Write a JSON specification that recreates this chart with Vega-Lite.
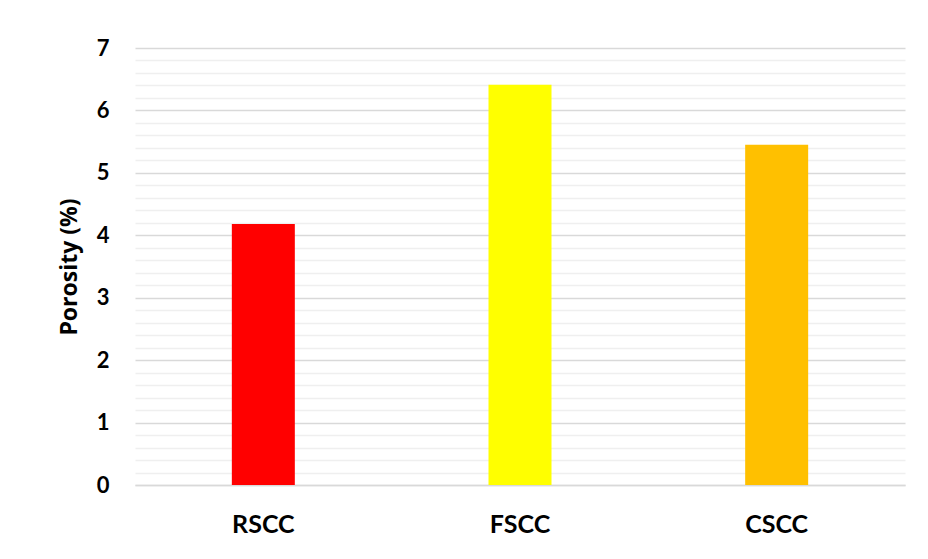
{
  "$schema": "https://vega.github.io/schema/vega-lite/v6.json",
  "width": 770,
  "height": 437,
  "autosize": {"type": "none"},
  "padding": {"left": 135, "top": 48, "right": 23, "bottom": 74},
  "background": "white",
  "config": {
    "view": {"stroke": null},
    "font": "Lato"
  },
  "data": {
    "values": [
      {"sample": "RSCC", "porosity": 4.18, "color": "#ff0000"},
      {"sample": "FSCC", "porosity": 6.41, "color": "#ffff00"},
      {"sample": "CSCC", "porosity": 5.45, "color": "#ffc000"}
    ]
  },
  "resolve": {"axis": {"y": "independent"}},
  "layer": [
    {
      "mark": {"type": "rule", "opacity": 0},
      "encoding": {
        "y": {
          "field": "porosity",
          "type": "quantitative",
          "scale": {"domain": [0, 7]},
          "axis": {
            "orient": "left",
            "values": [0.2,0.4,0.6,0.8,1.2,1.4,1.6,1.8,2.2,2.4,2.6,2.8,3.2,3.4,3.6,3.8,4.2,4.4,4.6,4.8,5.2,5.4,5.6,5.8,6.2,6.4,6.6,6.8],
            "grid": true,
            "gridColor": "#efefef",
            "gridWidth": 1.5,
            "labels": false,
            "ticks": false,
            "domain": false,
            "title": null
          }
        }
      }
    },
    {
      "mark": {"type": "bar", "width": 63},
      "encoding": {
        "x": {
          "field": "sample",
          "type": "nominal",
          "sort": ["RSCC", "FSCC", "CSCC"],
          "axis": {
            "title": null,
            "labelAngle": 0,
            "labelFont": "Lato",
            "labelFontWeight": "bold",
            "labelFontSize": 25,
            "labelColor": "#000000",
            "labelPadding": 27,
            "ticks": false,
            "domainColor": "#d9d9d9",
            "domainWidth": 1.5
          }
        },
        "y": {
          "field": "porosity",
          "type": "quantitative",
          "scale": {"domain": [0, 7]},
          "axis": {
            "orient": "left",
            "values": [0,1,2,3,4,5,6,7],
            "title": "Porosity (%)",
            "titleFont": "Open Sans",
            "titleFontWeight": "bold",
            "titleFontSize": 23,
            "titleColor": "#000000",
            "titlePadding": 15,
            "labelFont": "Lato",
            "labelFontWeight": "bold",
            "labelFontSize": 22,
            "labelColor": "#000000",
            "labelPadding": 26,
            "ticks": false,
            "domain": false,
            "grid": true,
            "gridColor": "#d9d9d9",
            "gridWidth": 1.5
          }
        },
        "color": {"field": "color", "type": "nominal", "scale": null, "legend": null}
      }
    }
  ]
}
